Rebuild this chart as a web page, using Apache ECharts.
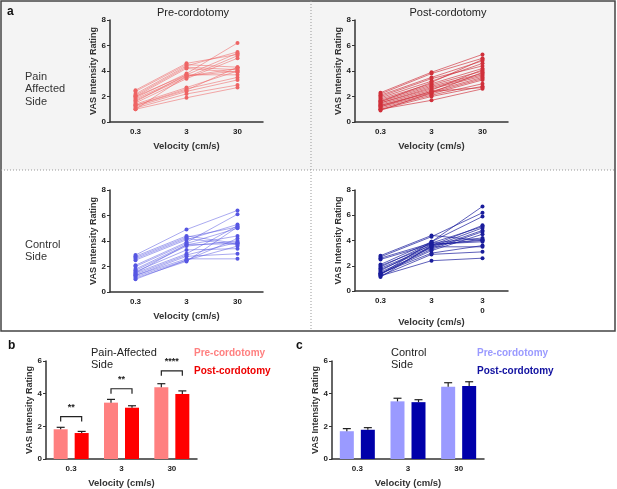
<!DOCTYPE html>
<html>
<head>
<meta charset="utf-8">
<script src="https://cdn.jsdelivr.net/npm/echarts@6/dist/echarts.min.js"></script>
<style>
html, body { margin: 0; padding: 0; background: #fff; }
#chart { width: 617px; height: 489px; }
</style>
</head>
<body>
<div id="chart"></div>
<script>
// categories
var velocities = ['0.3', '3', '30'];
var velocitiesOdd = ['0.3', '3', '3\n0'];   // the original wraps the last label

// per subject ratings [0.3, 3, 30 cm/s]
var painPre = [
    [2.5, 4.6, 5.3], [2.4, 4.5, 4.3], [2.2, 4.4, 5.5], [2.1, 4.3, 4.1], [2.0, 4.2, 3.9],
    [2.0, 3.7, 5.4], [1.9, 3.8, 6.2], [1.8, 3.6, 4.2], [1.7, 3.5, 5.2], [1.6, 3.7, 3.7],
    [1.5, 3.4, 5.0], [1.4, 2.7, 4.0], [1.3, 2.6, 3.5], [1.3, 2.5, 4.3], [1.2, 2.4, 3.3],
    [1.1, 2.2, 2.9], [1.0, 1.9, 2.7], [1.0, 3.6, 4.0]
];
var painPost = [
    [2.3, 3.9, 5.3], [2.2, 3.8, 5.0], [2.1, 3.5, 4.8], [2.0, 3.4, 4.4], [1.9, 3.2, 4.6],
    [1.8, 3.0, 4.2], [1.7, 2.9, 4.0], [1.6, 2.8, 3.8], [1.5, 2.7, 3.7], [1.5, 2.6, 3.6],
    [1.4, 2.5, 4.1], [1.3, 2.4, 3.5], [1.3, 2.3, 3.4], [1.2, 2.2, 3.3], [1.1, 2.1, 3.0],
    [1.0, 2.0, 2.8], [1.0, 1.7, 2.6], [0.9, 2.3, 3.9], [1.6, 3.1, 4.9], [1.2, 2.4, 2.7]
];
var ctrlPre = [
    [2.9, 4.9, 6.4], [2.8, 4.4, 3.8], [2.7, 4.3, 5.1], [2.6, 4.2, 3.7], [2.5, 4.1, 5.3],
    [2.1, 3.9, 6.1], [2.0, 3.8, 5.0], [1.8, 3.7, 4.4], [1.7, 3.6, 4.0], [1.6, 3.3, 3.4],
    [1.5, 3.0, 5.2], [1.4, 2.9, 3.9], [1.3, 2.8, 3.0], [1.3, 2.6, 2.6], [1.2, 2.5, 3.6],
    [1.1, 2.4, 5.1], [1.0, 2.5, 4.2], [1.5, 3.7, 3.8]
];
var ctrlPost = [
    [2.8, 4.4, 4.0], [2.7, 4.3, 6.2], [2.6, 3.8, 5.1], [2.5, 3.7, 4.0], [2.1, 3.9, 6.7],
    [2.0, 3.6, 5.2], [1.9, 3.8, 4.2], [1.8, 3.5, 5.0], [1.7, 3.4, 4.8], [1.6, 3.7, 3.9],
    [1.5, 3.3, 4.7], [1.4, 3.0, 3.6], [1.3, 3.9, 5.9], [1.3, 3.5, 3.5], [1.2, 2.9, 3.1],
    [1.2, 2.4, 2.6], [1.1, 3.6, 4.1], [1.4, 3.2, 4.5]
];

// group means and SEM
var meanPainPre = [1.82, 3.45, 4.39];
var semPainPre = [0.12, 0.20, 0.22];
var meanPainPost = [1.59, 3.14, 3.98];
var semPainPost = [0.10, 0.12, 0.19];
var meanCtrlPre = [1.70, 3.53, 4.43];
var semCtrlPre = [0.16, 0.19, 0.24];
var meanCtrlPost = [1.79, 3.48, 4.47];
var semCtrlPost = [0.13, 0.15, 0.26];

// significance brackets (pain side)
var sigLevel = [2.6, 4.3, 5.4];
var sigLabel = ['**', '**', '****'];

var FONT = '"Liberation Sans", Arial, sans-serif';
var AXC = '#333';
var BAR_OFF = 10.5;

var chart = echarts.init(document.getElementById('chart'));

function xAxisOf(gi, labels) {
    return {
        type: 'category', gridIndex: gi, data: labels,
        name: 'Velocity (cm/s)', nameLocation: 'middle', nameGap: 19,
        nameTextStyle: { fontFamily: FONT, fontWeight: 'bold', fontSize: 9.5, color: '#333' },
        axisLine: { lineStyle: { color: AXC, width: 1.5 } },
        axisTick: { alignWithLabel: true, length: 3, lineStyle: { color: AXC } },
        axisLabel: { fontFamily: FONT, fontWeight: 'bold', fontSize: 8, color: '#222', margin: 5, lineHeight: 10 }
    };
}
function yAxisOf(gi, max) {
    return {
        type: 'value', gridIndex: gi, min: 0, max: max, interval: 2,
        name: 'VAS Intensity Rating', nameLocation: 'middle', nameGap: 12,
        nameTextStyle: { fontFamily: FONT, fontWeight: 'bold', fontSize: 9, color: '#333' },
        axisLine: { show: true, lineStyle: { color: AXC, width: 1.5 } },
        axisTick: { show: true, length: 3, lineStyle: { color: AXC } },
        axisLabel: { fontFamily: FONT, fontWeight: 'bold', fontSize: 8, color: '#222', margin: 4 },
        splitLine: { show: false }
    };
}

var series = [];
function addSubjects(gi, rows, color, lineAlpha) {
    rows.forEach(function (r) {
        series.push({
            type: 'line', xAxisIndex: gi, yAxisIndex: gi, data: r,
            symbol: 'circle', symbolSize: 4, silent: true,
            itemStyle: { color: color },
            lineStyle: { color: color, width: 1, opacity: lineAlpha }
        });
    });
}
addSubjects(0, painPre, '#ee6464', 0.55);
addSubjects(1, painPost, '#d0303a', 0.65);
addSubjects(2, ctrlPre, '#5656e2', 0.5);
addSubjects(3, ctrlPost, '#1a1d9c', 0.7);

function barSeries(gi, vals, color) {
    return {
        type: 'bar', xAxisIndex: gi, yAxisIndex: gi, data: vals,
        barWidth: 14, barGap: '50%', itemStyle: { color: color }, silent: true
    };
}
function errSeries(gi, vals, errs, offset) {
    return {
        type: 'custom', xAxisIndex: gi, yAxisIndex: gi, z: 3, silent: true,
        data: vals.map(function (v, i) { return [i, v, v + errs[i]]; }),
        encode: { x: 0, y: [1, 2] },
        renderItem: function (params, api) {
            var lo = api.coord([api.value(0), api.value(1)]);
            var hi = api.coord([api.value(0), api.value(2)]);
            var x = lo[0] + offset;
            var st = { stroke: '#222', lineWidth: 1.2 };
            return { type: 'group', children: [
                { type: 'line', shape: { x1: x, y1: lo[1], x2: x, y2: hi[1] }, style: st },
                { type: 'line', shape: { x1: x - 4, y1: hi[1], x2: x + 4, y2: hi[1] }, style: st }
            ] };
        }
    };
}

series.push(barSeries(4, meanPainPre, '#ff8080'));
series.push(barSeries(4, meanPainPost, '#ff0000'));
series.push(errSeries(4, meanPainPre, semPainPre, -BAR_OFF));
series.push(errSeries(4, meanPainPost, semPainPost, BAR_OFF));
series.push(barSeries(5, meanCtrlPre, '#9a9aff'));
series.push(barSeries(5, meanCtrlPost, '#0000aa'));
series.push(errSeries(5, meanCtrlPre, semCtrlPre, -BAR_OFF));
series.push(errSeries(5, meanCtrlPost, semCtrlPost, BAR_OFF));

// brackets
series.push({
    type: 'custom', xAxisIndex: 4, yAxisIndex: 4, z: 4, silent: true,
    data: sigLevel.map(function (v, i) { return [i, v, sigLabel[i]]; }),
    encode: { x: 0, y: 1 },
    renderItem: function (params, api) {
        var p = api.coord([api.value(0), api.value(1)]);
        var x1 = p[0] - BAR_OFF, x2 = p[0] + BAR_OFF, y = p[1];
        return { type: 'group', children: [
            { type: 'polyline', shape: { points: [[x1, y + 5], [x1, y], [x2, y], [x2, y + 5]] },
              style: { stroke: '#222', lineWidth: 1.2, fill: null } },
            { type: 'text', x: p[0], y: y - 9,
              style: { text: sigLabel[params.dataIndex], font: 'bold 9px ' + FONT, fill: '#222',
                       align: 'center', verticalAlign: 'middle' } }
        ] };
    }
});

function txt(x, y, s, size, weight, color, align, lh) {
    return { type: 'text', x: x, y: y, silent: true,
        style: { text: s, font: (weight || 'normal') + ' ' + size + 'px ' + FONT, fill: color || '#222',
                 align: align || 'left', verticalAlign: 'middle', lineHeight: lh || size + 2 } };
}

var option = {
    animation: false,
    backgroundColor: '#fff',
    grid: [
        { left: 110, top: 20, width: 153, height: 102 },
        { left: 355, top: 20, width: 153, height: 102 },
        { left: 110, top: 190, width: 153, height: 102 },
        { left: 355, top: 190, width: 153, height: 101 },
        { left: 46, top: 361, width: 151, height: 102 },
        { left: 332, top: 361, width: 152, height: 102 }
    ],
    xAxis: [
        xAxisOf(0, velocities), xAxisOf(1, velocities), xAxisOf(2, velocities),
        xAxisOf(3, velocitiesOdd), xAxisOf(4, velocities), xAxisOf(5, velocities)
    ],
    yAxis: [
        yAxisOf(0, 8), yAxisOf(1, 8), yAxisOf(2, 8), yAxisOf(3, 8), yAxisOf(4, 6), yAxisOf(5, 6)
    ],
    graphic: [
        { type: 'rect', z: -10, silent: true, shape: { x: 1, y: 1, width: 614, height: 169 }, style: { fill: '#f4f4f4' } },
        { type: 'rect', z: -9, silent: true, shape: { x: 1, y: 1, width: 614, height: 330 },
          style: { fill: null, stroke: '#444', lineWidth: 1.5 } },
        { type: 'line', z: -9, silent: true, shape: { x1: 1, y1: 170, x2: 615, y2: 170 },
          style: { stroke: '#999', lineWidth: 1, lineDash: [1, 2] } },
        { type: 'line', z: -9, silent: true, shape: { x1: 311, y1: 1, x2: 311, y2: 331 },
          style: { stroke: '#999', lineWidth: 1, lineDash: [1, 2] } },
        txt(7, 12, 'a', 12, 'bold', '#111'),
        txt(193, 13, 'Pre-cordotomy', 11, 'normal', '#222', 'center'),
        txt(448, 13, 'Post-cordotomy', 11, 'normal', '#222', 'center'),
        txt(25, 89, 'Pain\nAffected\nSide', 11, 'normal', '#333', 'left', 12.5),
        txt(25, 251, 'Control\nSide', 11, 'normal', '#333', 'left', 12.5),
        txt(8, 346, 'b', 12, 'bold', '#111'),
        txt(296, 346, 'c', 12, 'bold', '#111'),
        txt(91, 359, 'Pain-Affected\nSide', 11, 'normal', '#222', 'left', 12.5),
        txt(391, 359, 'Control\nSide', 11, 'normal', '#222', 'left', 12.5),
        txt(194, 353, 'Pre-cordotomy', 10, 'bold', '#ff8080'),
        txt(194, 371, 'Post-cordotomy', 10, 'bold', '#ee0000'),
        txt(477, 353, 'Pre-cordotomy', 10, 'bold', '#9a9aff'),
        txt(477, 371, 'Post-cordotomy', 10, 'bold', '#1010a0')
    ],
    series: series
};
chart.setOption(option);
</script>
</body>
</html>
